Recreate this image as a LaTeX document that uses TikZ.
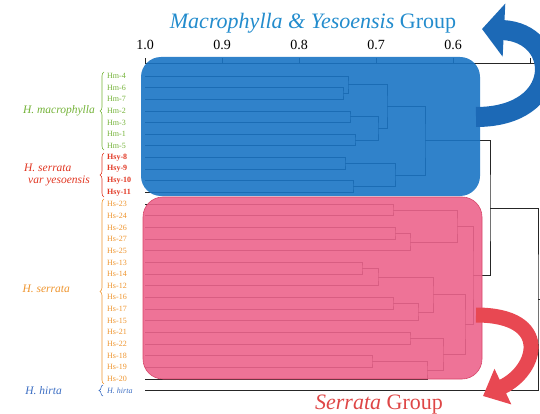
\documentclass[tikz,border=0pt]{standalone}
\usepackage{fontspec}
\setmainfont{Liberation Serif}
\usetikzlibrary{arrows.meta, positioning, calc, decorations.pathreplacing}
\definecolor{mblue}{RGB}{26,116,196}
\definecolor{arrblue}{RGB}{28,105,182}
\definecolor{titleblue}{RGB}{35,140,205}
\definecolor{spink}{RGB}{236,100,140}
\definecolor{spinkdark}{RGB}{215,70,105}
\definecolor{arrred}{RGB}{232,72,82}
\definecolor{sred}{RGB}{222,70,70}
\definecolor{hmgreen}{RGB}{115,178,55}
\definecolor{hsyred}{RGB}{225,55,35}
\definecolor{hsorange}{RGB}{238,148,45}
\definecolor{hhblue}{RGB}{60,110,195}

% join two clusters at height #4
\newcommand\dendjoin[4]{%
  \coordinate (#1m) at ($(#2)!0.5!(#3)$);
  \coordinate (#1) at (#4,0 |- #1m);
  \draw[dendro] (#2) -| (#1) |- (#3);
}

\begin{document}
\begin{tikzpicture}[x=1pt, y=-1pt,
    dendro/.style={draw=black!85, line width=0.8pt},
    leaf/.style={anchor=west, inner sep=0pt, font=\fontsize{8}{9}\selectfont},
    hmleaf/.style={leaf, text=hmgreen},
    hsyleaf/.style={leaf, text=hsyred, font=\fontsize{8}{9}\selectfont\bfseries},
    hsleaf/.style={leaf, text=hsorange},
    grp/.style={anchor=east, inner sep=0pt, align=left, font=\fontsize{11.5}{12.5}\selectfont\itshape},
    grpbrace/.style={decorate, decoration={brace, amplitude=4pt}, line width=0.6pt},
    groupbox/.style={rounded corners=20pt, fill opacity=0.9}]
    \useasboundingbox (0,0) rectangle (540,414);

    % axis
    \draw[dendro] (145,63) -- (545,63);
    \foreach \k in {0,...,5}
        \draw[dendro] ({145+77*\k},63) -- ++(0,-5);
    \foreach \v [count=\k] in {1.0,0.9,0.8,0.7,0.6}
        \node[font=\fontsize{14}{15}\selectfont] (tick\k) at ({145+(1-\v)*770},45) {\v};

    % leaves
    \foreach \nm/\txt/\sty [count=\i from 0] in {
        hm4/Hm-4/hmleaf, hm6/Hm-6/hmleaf, hm7/Hm-7/hmleaf, hm2/Hm-2/hmleaf,
        hm3/Hm-3/hmleaf, hm1/Hm-1/hmleaf, hm5/Hm-5/hmleaf,
        hsy8/Hsy-8/hsyleaf, hsy9/Hsy-9/hsyleaf, hsy10/Hsy-10/hsyleaf, hsy11/Hsy-11/hsyleaf,
        hs23/Hs-23/hsleaf, hs24/Hs-24/hsleaf, hs26/Hs-26/hsleaf, hs27/Hs-27/hsleaf,
        hs25/Hs-25/hsleaf, hs13/Hs-13/hsleaf, hs14/Hs-14/hsleaf, hs12/Hs-12/hsleaf,
        hs16/Hs-16/hsleaf, hs17/Hs-17/hsleaf, hs15/Hs-15/hsleaf, hs21/Hs-21/hsleaf,
        hs22/Hs-22/hsleaf, hs18/Hs-18/hsleaf, hs19/Hs-19/hsleaf, hs20/Hs-20/hsleaf}
    {
        \coordinate (\nm) at (145,{76+11.65*\i});
        \node[\sty] (t\nm) at (107,{76+11.65*\i}) {\txt};
    }
    \coordinate (hirta) at (145,390.5);
    \node[leaf, text=hhblue, font=\fontsize{8}{9}\selectfont\itshape] (thirta) at (107,390.5) {H. hirta};

    % macrophylla & yesoensis
    \dendjoin{a1}{hm6}{hm7}{343}
    \dendjoin{a2}{hm4}{a1}{348}
    \dendjoin{a3}{hm2}{hm3}{350}
    \dendjoin{a4}{hm1}{hm5}{355}
    \dendjoin{a5}{a3}{a4}{378}
    \dendjoin{a6}{a2}{a5}{387}
    \dendjoin{b1}{hsy8}{hsy9}{345}
    \dendjoin{b2}{hsy10}{hsy11}{353}
    \dendjoin{b3}{b1}{b2}{395}
    \dendjoin{mroot}{a6}{b3}{425}
    % serrata
    \dendjoin{c1}{hs23}{hs24}{393}
    \dendjoin{c2}{hs26}{hs27}{395}
    \dendjoin{c3}{c2}{hs25}{410}
    \dendjoin{c4}{c1}{c3}{457}
    \dendjoin{c5}{hs13}{hs14}{362}
    \dendjoin{c6}{c5}{hs12}{378}
    \dendjoin{c7}{hs16}{hs17}{393}
    \dendjoin{c8}{c7}{hs15}{418}
    \dendjoin{c9}{c6}{c8}{433}
    \dendjoin{c10}{hs21}{hs22}{410}
    \dendjoin{c11}{hs18}{hs19}{372}
    \dendjoin{c12}{c11}{hs20}{427}
    \dendjoin{c13}{c10}{c12}{443}
    \dendjoin{c14}{c9}{c13}{465}
    \dendjoin{sroot}{c4}{c14}{473}
    \dendjoin{hroot}{mroot}{sroot}{490}
    \dendjoin{root}{hroot}{hirta}{538}
    \draw[dendro] (root) -- ++(10,0);

    % group boxes
    \fill[mblue, groupbox] (141,57) rectangle (480,196);
    \filldraw[fill=spink, draw=spinkdark, line width=0.6pt, groupbox] (143,197) rectangle (482,379);

    % arrows
    \draw[arrblue, line width=20pt, -{Triangle[length=22pt, width=52pt]}]
        (476,117) .. controls (564,117) and (562,33) .. (482,29);
    \draw[arrred, line width=15pt, -{Triangle[length=22pt, width=38pt]}]
        (476,315) .. controls (552,315) and (538,370) .. (483,396);

    % group labels
    \node[font=\fontsize{22}{24}\selectfont, text=titleblue] (mtitle) at (313,23)
        {\textit{Macrophylla \& Yesoensis} Group};
    \node[font=\fontsize{22}{24}\selectfont, text=sred] (stitle) at (379,405)
        {\textit{Serrata} Group};

    \draw[grpbrace, hmgreen] (104,150) -- (104,72);
    \draw[grpbrace, hsyred] (104,197) -- (104,153);
    \draw[grpbrace, hsorange] (104,384) -- (104,199);
    \draw[grpbrace, hhblue] (103,396) -- (103,385);
    \node[grp, text=hmgreen] (gmacro) at (95,111) {H. macrophylla};
    \node[grp, text=hsyred] (gyeso) at (90,175) {H. serrata\\\hspace{4pt}var yesoensis};
    \node[grp, text=hsorange] (gserr) at (70,289) {H. serrata};
    \node[grp, text=hhblue] (ghirta) at (62,390.5) {H. hirta};
\end{tikzpicture}
\end{document}
